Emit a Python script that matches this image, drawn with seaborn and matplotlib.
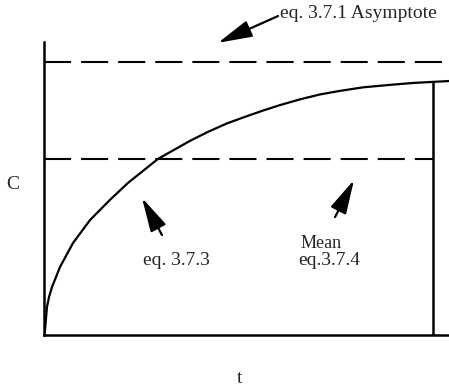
import numpy as np
import pandas as pd
import matplotlib
matplotlib.use("Agg")
import matplotlib.pyplot as plt
import seaborn as sns

# Curve (t in arbitrary units, C normalised so asymptote = 1)
t_vals = [0.0, 0.026, 0.077, 0.129, 0.206, 0.308, 0.411, 0.746, 1.183, 1.697,
          2.159, 2.545, 2.931, 3.753, 4.216, 4.704, 5.167, 5.630, 6.067, 6.581,
          7.095, 7.609, 8.201, 8.895, 9.486, 10.0, 10.41]
c_vals = [0.0, 0.018, 0.103, 0.139, 0.176, 0.212, 0.249, 0.337, 0.421, 0.495,
          0.557, 0.601, 0.645, 0.711, 0.744, 0.775, 0.799, 0.822, 0.842, 0.863,
          0.881, 0.894, 0.907, 0.916, 0.923, 0.927, 0.930]
asymptote = 1.0
mean_level = 0.645
t_end = 10.0
t_max = 10.41
c_top = 1.073

sns.set_style("white")
plt.rcParams["font.family"] = ["Liberation Serif", "DejaVu Serif"]
FS = 14

fig = plt.figure(figsize=(4.49, 3.88), dpi=100)
ax = fig.add_axes([44 / 449, 53 / 388, 405 / 449, 293 / 388])

df = pd.DataFrame({"t": t_vals, "C": c_vals})
sns.lineplot(data=df, x="t", y="C", ax=ax, color="black", lw=1.6,
             estimator=None, sort=False)

dash = (13, 4.8)
ax.plot([0, t_max], [asymptote, asymptote], color="black", lw=1.5,
        dashes=dash, clip_on=False)
ax.plot([0, t_end], [mean_level, mean_level], color="black", lw=1.5,
        dashes=dash)
ax.plot([t_end, t_end], [0, c_vals[t_vals.index(t_end)]], color="black", lw=1.8)

ax.set_xlim(0, t_max)
ax.set_ylim(0, c_top)
ax.set_xticks([])
ax.set_yticks([])
for s in ["top", "right"]:
    ax.spines[s].set_visible(False)
for s in ["left", "bottom"]:
    ax.spines[s].set_linewidth(1.8)
    ax.spines[s].set_color("black")

ax.set_xlabel("t", fontsize=FS)
ax.set_ylabel("C", fontsize=FS, rotation=0)
ax.xaxis.set_label_coords(0.484, -0.150)
ax.yaxis.set_label_coords(-0.0765, 0.515)
ax.yaxis.label.set_va("center")
ax.xaxis.label.set_va("center")

ap = dict(arrowstyle="-|>,head_length=1.4,head_width=0.35", color="black",
          lw=1.6, mutation_scale=15, shrinkA=0, shrinkB=0)

ax.annotate("", xy=(4.473, 1.070), xytext=(6.015, 1.168), arrowprops=ap,
            annotation_clip=False)
ax.text(6.067, 1.161, "eq. 3.7.1 Asymptote", fontsize=FS, ha="left",
        va="baseline", clip_on=False)

ax.annotate("", xy=(2.519, 0.502), xytext=(3.033, 0.366), arrowprops=ap)
ax.text(2.545, 0.256, "eq. 3.7.3", fontsize=FS, ha="left", va="baseline")

ax.annotate("", xy=(7.969, 0.568), xytext=(7.481, 0.432), arrowprops=ap)
ax.text(6.581, 0.319, "Mean", fontsize=FS - 1, ha="left", va="baseline")
ax.text(6.530, 0.256, "eq.3.7.4", fontsize=FS, ha="left", va="baseline")

fig.savefig("out.png", dpi=100)
